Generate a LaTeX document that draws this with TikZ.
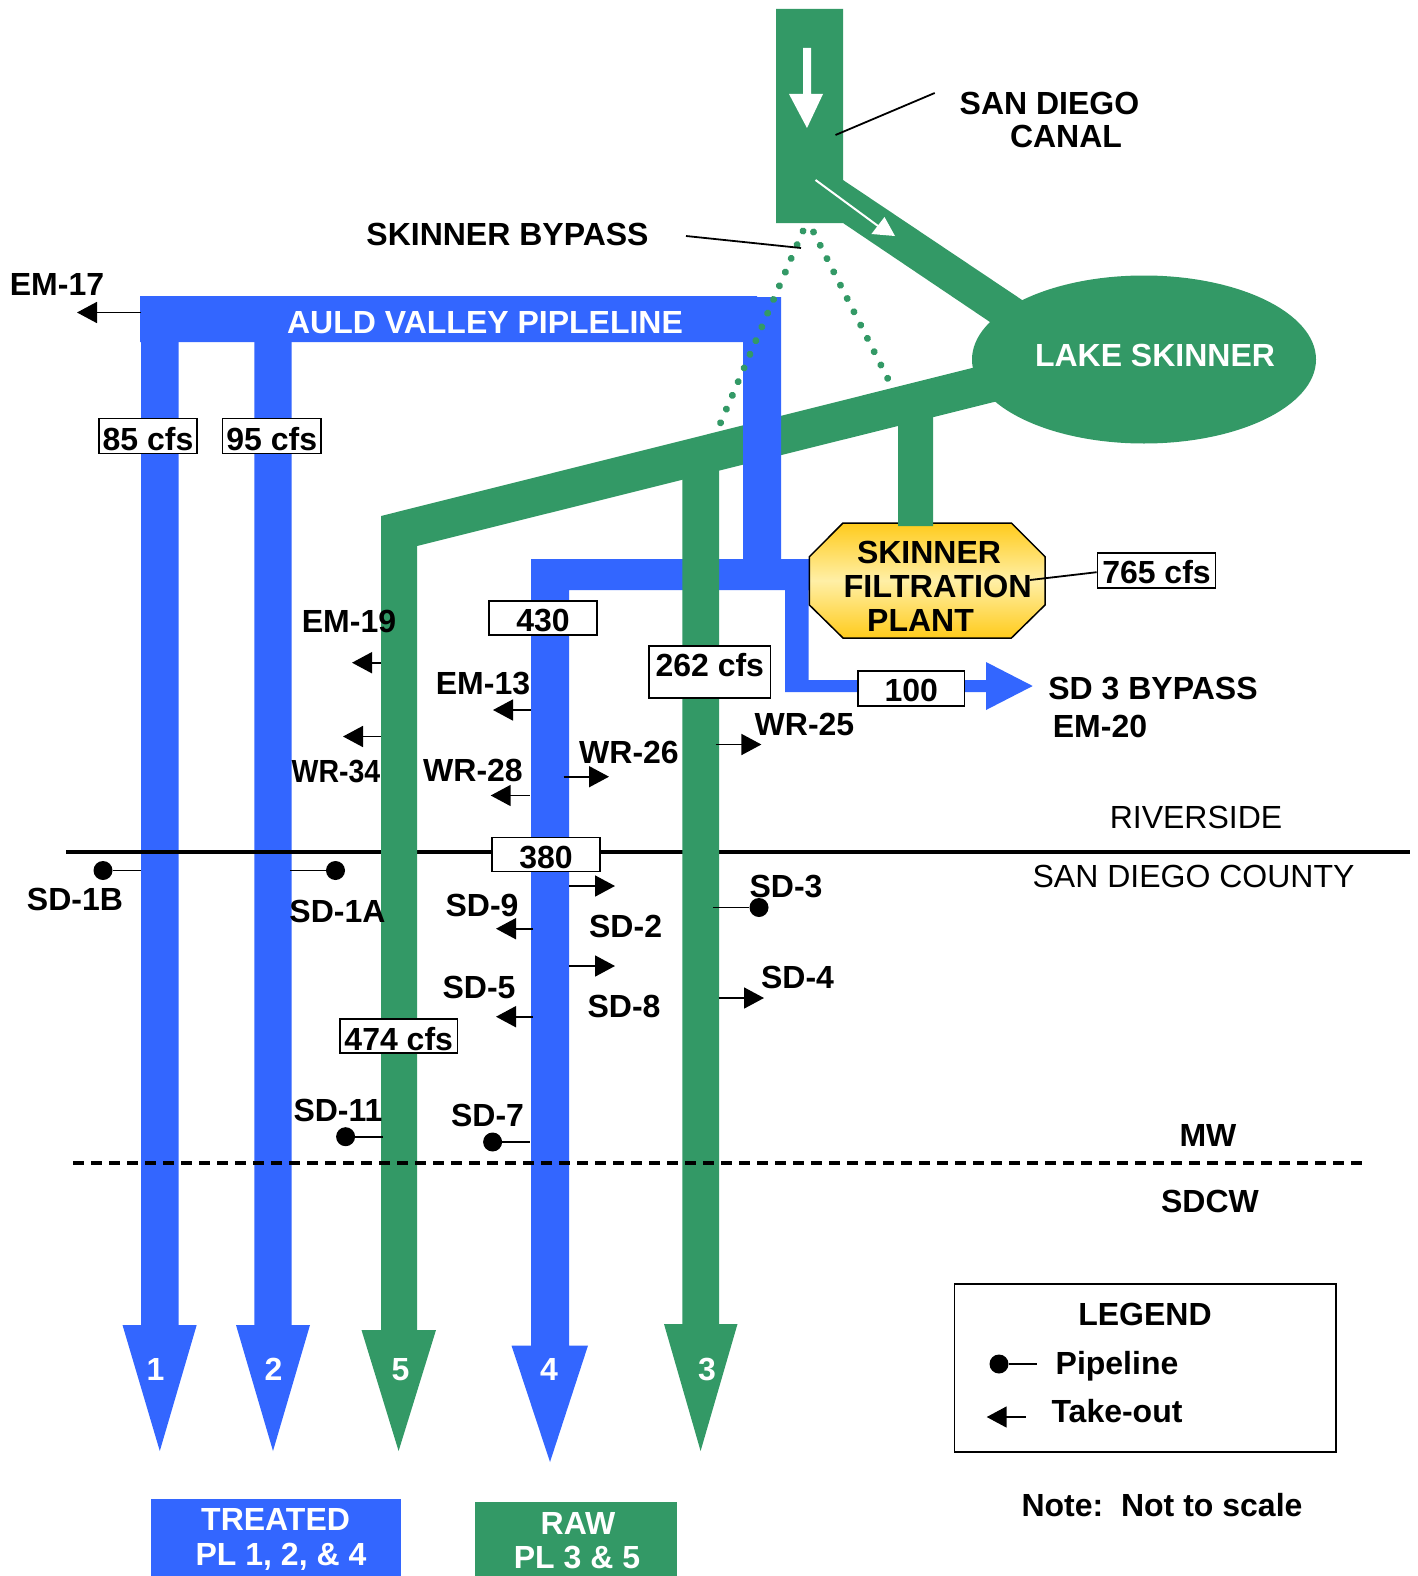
\documentclass[tikz,border=0pt]{standalone}
\usepackage{fontspec}
\usepackage{graphicx}
\setmainfont{Liberation Sans}
\usetikzlibrary{arrows.meta}
\definecolor{pgreen}{HTML}{339966}
\definecolor{pblue}{HTML}{3366FF}
\definecolor{pgold}{HTML}{FFCB1C}
\definecolor{plight}{HTML}{FFEFA6}
\tikzset{
  lbl/.style={anchor=base,inner sep=0pt,font=\fontsize{32}{34}\selectfont\bfseries},
  wlbl/.style={lbl,text=white},
  rlbl/.style={anchor=base,inner sep=0pt,font=\fontsize{#1}{34}\selectfont},
  flowbox/.style 2 args={draw=black,fill=white,line width=1.7pt,inner sep=0pt,
    minimum width=#1,minimum height=#2,font=\fontsize{32}{34}\selectfont\bfseries,text depth=0pt},
  takeoutline/.style={line width=1.7pt,-{Triangle[length=20pt,width=21pt]}},
  pipeline/.style={line width=1.7pt},
  leader/.style={line width=1.8pt},
  dotline/.style={pgreen,line width=7pt,line cap=round,dash pattern=on 0.01pt off 14.9pt},
  tap/.style={circle,fill=black,inner sep=0pt,minimum size=19pt}
}
\newcommand{\takeout}[4]{%
  \coordinate (#1-a) at (#2,#4);\coordinate (#1-b) at (#3,#4);
  \draw[takeoutline] (#1-a) -- (#1-b);}
\newcommand{\tapline}[4]{%
  \node[tap] (#1-c) at (#2,#4) {};\coordinate (#1-e) at (#3,#4);
  \draw[pipeline] (#1-c) -- (#1-e);}
\begin{document}
\begin{tikzpicture}[x=1pt,y=-1pt]
\useasboundingbox (0,0) rectangle (1418,1576);
\fill[white] (0,0) rectangle (1418,1576);

% blue pipes
\fill[pblue] (141,342) -- (178.5,342) -- (178.5,1325) -- (196.7,1325) -- (159.8,1451) -- (122.5,1325) -- (141,1325) -- cycle;
\fill[pblue] (254.3,342) -- (291.7,342) -- (291.7,1325) -- (310,1325) -- (273,1451) -- (236,1325) -- (254.3,1325) -- cycle;
\fill[pblue] (531,559) -- (812,559) -- (812,590) -- (808.6,590) -- (808.6,680) -- (990,680) -- (990,692) -- (785,692) -- (785,590) -- (569,590)
  -- (569,1345.5) -- (588,1345.5) -- (550,1462) -- (511.5,1345.5) -- (531,1345.5) -- cycle;
\fill[pblue] (986,662) -- (1032.7,686) -- (986,710) -- cycle;

% county line
\coordinate (county-a) at (66,852);
\coordinate (county-b) at (1410,852);
\draw[line width=3.5pt] (county-a) -- (county-b);

% filtration plant
\path[draw=black,line width=1.5pt,top color=pgold,bottom color=pgold,middle color=plight]
  (843,523) -- (1011.4,523) -- (1045,556.7) -- (1045,605) -- (1011.4,638) -- (843,638) -- (809.4,605) -- (809.4,556.7) -- cycle;

% green network
\fill[pgreen] (776,9) -- (843,9) -- (843,180) -- (1040,312) -- (1010,335.5) -- (843,223) -- (776,223) -- cycle;
\fill[pgreen] (1144,359.5) ellipse [x radius=172,y radius=84];
\fill[pgreen] (1000,361) -- (381,516) -- (381,1330) -- (361.5,1330) -- (398.6,1451) -- (436,1330) -- (417,1330) -- (417,546) -- (1010,398) -- cycle;
\fill[pgreen] (682.4,465) -- (719,455) -- (719,1324) -- (737.5,1324) -- (700.6,1451) -- (664,1324) -- (682.4,1324) -- cycle;
\fill[pgreen] (898,415) -- (933,405) -- (933,526) -- (898,526) -- cycle;

% Auld Valley bar and riser
\fill[pblue] (140,296) -- (757,296) -- (757,297) -- (781,297) -- (781,559.5) -- (743,559.5) -- (743,342) -- (140,342) -- cycle;

% canal white arrows
\fill[white] (803,48) -- (811,48) -- (811,94) -- (823,94) -- (807,128) -- (789,94) -- (803,94) -- cycle;
\coordinate (flow-a) at (815.5,180);
\coordinate (flow-b) at (878,226);
\draw[white,line width=2pt] (flow-a) -- (flow-b);
\fill[white] (895,236) -- (884.5,217) -- (871.4,234) -- cycle;

% dashed boundary
\coordinate (mw-a) at (73,1163);
\coordinate (mw-b) at (1362,1163);
\draw[line width=3.2pt,dash pattern=on 11pt off 7pt] (mw-a) -- (mw-b);

% dotted bypass
\coordinate (dl-a) at (803,231);
\coordinate (dl-b) at (720,424);
\coordinate (dr-a) at (813.5,232);
\coordinate (dr-b) at (888,379);
\draw[dotline] (dl-a) -- (dl-b);
\draw[dotline] (dr-a) -- (dr-b);

% top labels and leaders
\node[lbl] (sandiego) at (1049.5,114) {SAN DIEGO};
\node[lbl] (canal) at (1066,147) {CANAL};
\node[lbl] (bypass) at (507.5,245) {SKINNER BYPASS};
\coordinate (l1-a) at (835.5,135);
\coordinate (l1-b) at (934.7,93);
\draw[leader] (l1-a) -- (l1-b);
\coordinate (l2-a) at (686,236);
\coordinate (l2-b) at (801,248);
\draw[leader] (l2-a) -- (l2-b);
\node[lbl] (em17) at (57,295) {EM-17};
\takeout{to17}{141}{77}{312.5}
\node[wlbl] (auld) at (485,333) {AULD VALLEY PIPLELINE};
\node[wlbl] (lake) at (1155,366) {LAKE SKINNER};

% plant labels
\node[lbl] (plant1) at (929,563) {SKINNER};
\node[lbl] (plant2) at (937.6,597) {\scalebox{1.015}[1]{FILTRATION}};
\node[lbl] (plant3) at (920.5,631) {PLANT};
\node[flowbox={118pt}{35pt},text height=27pt] (f765) at (1156.5,570.2) {765 cfs};
\coordinate (plantfoot) at (1030,580);
\draw[leader] (plantfoot) -- ([yshift=-2pt]f765.west);

% flow boxes
\node[flowbox={98.5pt}{35pt},text height=29pt] (f85) at (148,436) {85 cfs};
\node[flowbox={98.5pt}{35pt},text height=29pt] (f95) at (271.8,436) {95 cfs};
\node[flowbox={121.5pt}{52pt},text height=10pt] (f262) at (709.8,671.7) {262 cfs};
\node[flowbox={106.5pt}{35pt},text height=27pt] (f100) at (911.2,688.2) {100};
\node[flowbox={108pt}{34pt},text height=27.4pt] (f430) at (543,617.7) {430};
\node[flowbox={108pt}{34pt},text height=27.4pt] (f380) at (546,854.5) {380};
\node[flowbox={117.5pt}{34.5pt},text height=28pt] (f474) at (398.75,1036) {474 cfs};

\node[lbl] (sd3by) at (1153,699.5) {SD 3 BYPASS};
\node[lbl] (em20) at (1100,737) {EM-20};

% take-outs, upper part
\node[lbl] (em19) at (349,632) {EM-19};
\takeout{to19}{381}{352}{662.7}
\takeout{to34}{381}{343}{736.5}
\node[lbl] (wr34) at (336,782) {\scalebox{0.89}[1]{WR-34}};
\node[lbl] (em13) at (483,694) {EM-13};
\takeout{to13}{531}{493}{710}
\node[lbl] (wr28) at (473,781) {WR-28};
\takeout{to28}{529.6}{490.7}{795.5}
\node[lbl] (wr26) at (629,763) {WR-26};
\takeout{to26}{563.6}{609}{776.7}
\node[lbl] (wr25) at (804.5,735) {WR-25};
\takeout{to25}{715.7}{761.4}{744.5}

% county labels
\node[rlbl=32] (riverside) at (1196,828.5) {RIVERSIDE};
\node[rlbl=32] (sdcounty) at (1193.5,887) {SAN DIEGO COUNTY};
\node[lbl] (mw) at (1208,1146) {MW};
\node[lbl] (sdcw) at (1210,1212) {SDCW};

% lower take-outs and pipelines
\tapline{p1b}{103}{141}{870.5}
\node[lbl] (sd1b) at (75,910) {SD-1B};
\tapline{p1a}{335.5}{289.6}{870.5}
\node[lbl] (sd1a) at (337.5,922.7) {SD-1A};
\node[lbl] (sd9) at (482,916.7) {SD-9};
\takeout{to9}{533}{496}{928.7}
\node[lbl] (sd2) at (625.6,937) {SD-2};
\takeout{to2}{569}{615}{886}
\tapline{p3}{759}{713}{907.5}
\node[lbl] (sd3) at (786,897) {SD-3};
\node[lbl] (sd5) at (479,998) {SD-5};
\takeout{to5}{533}{496}{1016.7}
\node[lbl] (sd8) at (624,1017) {SD-8};
\takeout{to8}{569}{615}{966}
\node[lbl] (sd4) at (797.5,988) {SD-4};
\takeout{to4}{718.6}{764}{998}
\node[lbl] (sd11) at (338,1121.7) {SD-11};
\tapline{p11}{345.6}{383.4}{1136.7}
\node[lbl] (sd7) at (487.5,1126.7) {SD-7};
\tapline{p7}{492.6}{530}{1142}

% pipe numbers
\node[wlbl] (n1) at (155.5,1380) {1};
\node[wlbl] (n2) at (273.5,1380) {2};
\node[wlbl] (n5) at (400.5,1380) {5};
\node[wlbl] (n4) at (549,1380) {4};
\node[wlbl] (n3) at (707,1380) {3};

% bottom key boxes
\fill[pblue] (151,1499) rectangle (400.5,1576);
\fill[pgreen] (475,1502) rectangle (677,1576);
\node[wlbl] (treated) at (275.6,1530) {TREATED};
\node[wlbl] (pl124) at (281,1565) {PL 1, 2, \& 4};
\node[wlbl] (raw) at (578,1534) {RAW};
\node[wlbl] (pl35) at (577,1568) {PL 3 \& 5};

% legend
\draw[line width=1.8pt] (954.5,1283.7) rectangle (1336.2,1451.7);
\node[lbl] (legend) at (1145,1325) {LEGEND};
\tapline{lg}{999}{1037}{1364}
\node[lbl] (lgp) at (1117,1374) {Pipeline};
\takeout{lgt}{1025.7}{986.7}{1417}
\node[lbl] (lgo) at (1117,1422) {Take-out};
\node[lbl] (note) at (1162,1516) {Note:\ \ Not to scale};
\end{tikzpicture}
\end{document}
